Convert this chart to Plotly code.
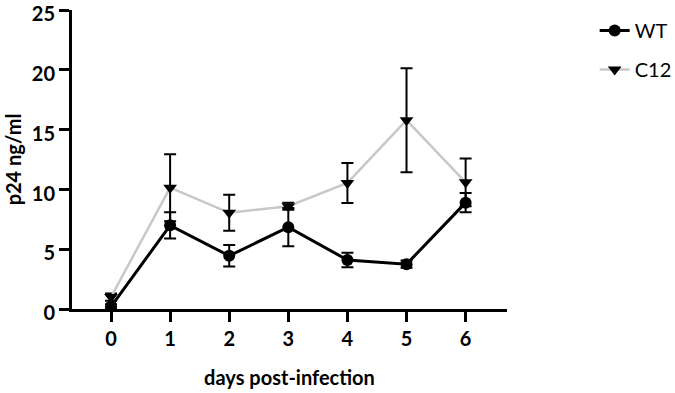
import plotly.graph_objects as go

days = [0, 1, 2, 3, 4, 5, 6]
wt_mean = [0.2, 7.0, 4.45, 6.85, 4.1, 3.75, 8.9]
wt_err = [0.2, 1.1, 0.9, 1.6, 0.6, 0.3, 0.8]
c12_mean = [1.0, 10.15, 8.05, 8.6, 10.55, 15.8, 10.6]
c12_err = [0.3, 2.8, 1.5, 0.3, 1.67, 4.35, 2.0]
y_ticks = [0, 5, 10, 15, 20, 25]
x_ticks = [0, 1, 2, 3, 4, 5, 6]

FONT = "Lato"

fig = go.Figure()
fig.add_trace(go.Scatter(
    x=days, y=c12_mean, name="C12", mode="lines+markers",
    line=dict(color="#c8c8c8", width=2.5),
    marker=dict(symbol="triangle-down", size=12, color="black"),
    error_y=dict(type="data", array=c12_err, color="black", thickness=2, width=6),
    legendgroup="c12", legendrank=2,
))
fig.add_trace(go.Scatter(
    x=days, y=wt_mean, name="WT", mode="lines+markers",
    line=dict(color="black", width=3),
    marker=dict(symbol="circle", size=12, color="black"),
    error_y=dict(type="data", array=wt_err, color="black", thickness=2, width=6),
    legendgroup="wt", legendrank=1,
))

fig.update_layout(
    width=675, height=393,
    margin=dict(l=72, r=168, t=10, b=84, autoexpand=False),
    plot_bgcolor="white", paper_bgcolor="white",
    font=dict(family=FONT, size=20, color="black"),
    showlegend=True,
    legend=dict(
        xref="container", yref="container",
        x=0.881, y=0.972, xanchor="left", yanchor="top",
        traceorder="grouped", tracegroupgap=10,
        font=dict(family=FONT, size=20, color="black"),
        bgcolor="rgba(0,0,0,0)",
    ),
    xaxis=dict(
        range=[-0.66, 6.7], tickvals=x_ticks, ticktext=[str(v) for v in x_ticks],
        showline=True, linecolor="black", linewidth=3,
        ticks="outside", ticklen=10, tickwidth=2.5, tickcolor="black",
        showgrid=False, zeroline=False, automargin=False,
        ticklabeloverflow="allow",
        tickfont=dict(family=FONT, size=20, color="black", weight="bold"),
        title=dict(text="<b>days post-infection</b>", standoff=22,
                   font=dict(family=FONT, size=20, color="black")),
    ),
    yaxis=dict(
        range=[0, 25.02], tickvals=y_ticks,
        showline=True, linecolor="black", linewidth=3,
        ticks="outside", ticklen=10, tickwidth=2.5, tickcolor="black",
        showgrid=False, zeroline=False, automargin=False,
        ticklabeloverflow="allow", ticklabelshift=4,
        tickfont=dict(family=FONT, size=20, color="black", weight="bold"),
        title=dict(text="<b>p24 ng/ml</b>", standoff=5,
                   font=dict(family=FONT, size=20, color="black")),
    ),
)

fig.write_html(
    "out.html",
    config={"displayModeBar": False},
    post_script="document.body.style.margin='0';document.body.style.overflow='hidden';",
)
